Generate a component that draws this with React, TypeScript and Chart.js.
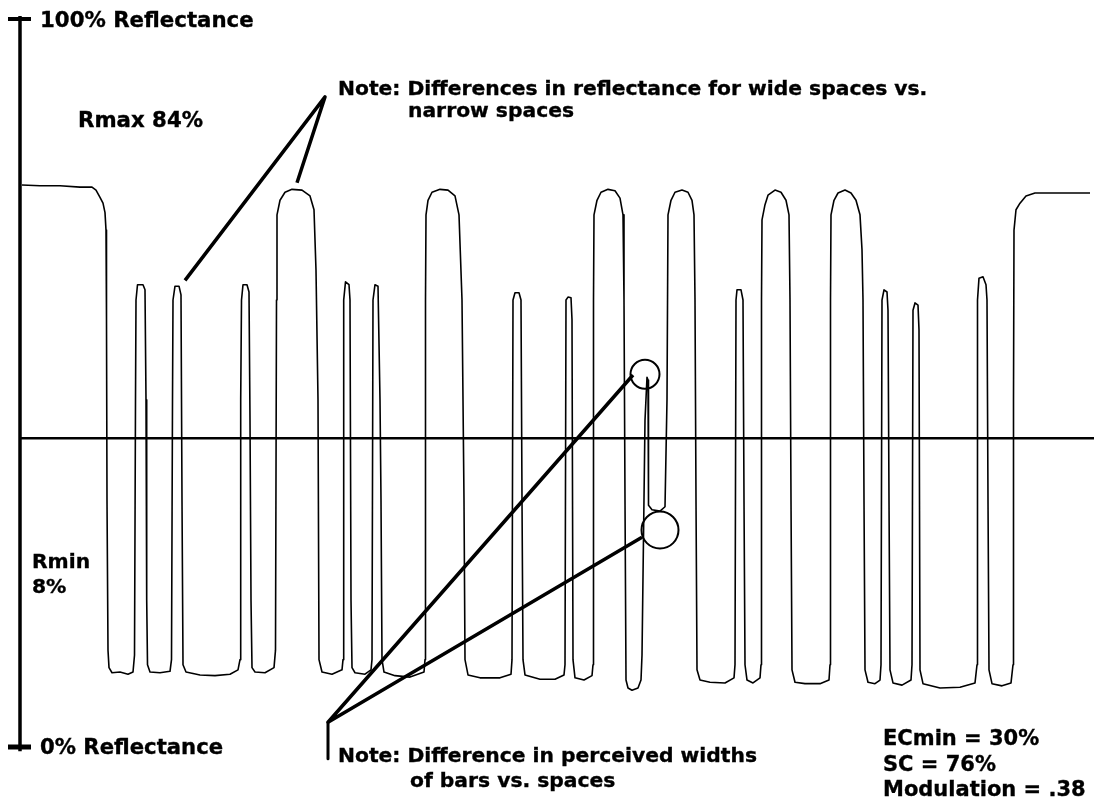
import React, { useEffect, useRef } from 'react';
import { Chart, registerables } from 'chart.js';

Chart.register(...registerables);

const WIDTH = 1094;
const HEIGHT = 799;

// Scan position along the symbol (px-like units) and measured reflectance (%)
const SCAN_X: number[] = [
  22, 40, 60, 80, 92, 96, 100, 103, 105, 106, 106.5, 107, 108, 109, 112, 120, 128, 133,
  134.5, 135.5, 136, 137.5, 143, 145, 146, 146.7, 147.5, 150, 160, 170,
  171.5, 172.5, 173, 175, 179, 181, 182, 183, 186, 200, 215, 230, 238,
  240, 240.7, 241.5, 243, 247, 249, 250, 251, 252, 255, 265, 274,
  275.5, 276.5, 277, 280, 285, 292, 302, 310, 314, 316, 318, 319, 322, 332, 342,
  343, 343.7, 345.5, 349, 350, 351, 352, 355, 365, 371,
  372, 373, 375, 378, 380, 381, 382, 384, 395, 410, 424,
  425, 425.5, 426, 428, 432, 440, 448, 455, 459, 462, 464, 465, 468, 480, 500, 511,
  512, 513, 515, 519, 521, 522, 523, 525, 540, 555, 564,
  565, 566, 568, 571, 572, 573, 575, 584, 592,
  593, 593.5, 594, 597, 601, 608, 615, 620, 623, 624, 625, 626, 628, 632, 638, 641,
  642, 645, 647, 648, 648.5, 652, 660, 665,
  667, 668, 671, 675, 682, 688, 692, 694, 695, 696, 697, 700, 710, 725, 734,
  735, 736, 737, 741, 743, 744, 745, 747, 753, 760,
  761, 761.5, 762, 765, 768, 775, 781, 786, 789, 790, 791, 792, 795, 805, 820, 829,
  830, 830.5, 831, 834, 838, 845, 851, 856, 860, 862, 863, 864, 865, 868, 875, 880,
  881, 882, 884, 887, 888, 889, 890, 893, 902, 911,
  912, 913, 915, 918, 919, 920, 923, 940, 960, 975,
  977, 977.5, 979, 983, 986, 987, 988, 989, 992, 1002, 1011,
  1013, 1013.5, 1014, 1016, 1020, 1026, 1035, 1060, 1090,
];

const REFLECTANCE: number[] = [
  77.2, 77.1, 77.1, 76.9, 76.9, 76.5, 75.5, 74.7, 73.4, 71.0, 58.7, 33.9, 13.3, 10.9, 10.2, 10.3, 10.0, 10.3,
  12.6, 47.7, 61.4, 63.5, 63.5, 62.8, 47.7, 20.2, 11.3, 10.3, 10.2, 10.4,
  12.0, 47.7, 61.4, 63.3, 63.3, 62.1, 33.9, 11.3, 10.3, 9.9, 9.8, 10.0, 10.6,
  12.0, 47.7, 61.4, 63.5, 63.5, 62.5, 44.9, 20.2, 10.9, 10.3, 10.2, 10.9,
  13.3, 61.4, 73.1, 75.1, 76.2, 76.6, 76.5, 75.7, 73.8, 65.5, 47.7, 12.0, 10.3, 10.0, 10.6,
  12.0, 61.4, 63.9, 63.5, 61.4, 20.2, 10.9, 10.2, 10.0, 10.6,
  12.0, 61.4, 63.5, 63.3, 47.7, 33.9, 12.0, 10.3, 9.8, 9.6, 10.3,
  12.0, 61.4, 73.1, 75.1, 76.2, 76.6, 76.5, 75.7, 73.1, 61.4, 33.9, 12.0, 9.9, 9.5, 9.5, 10.0,
  12.0, 61.4, 62.4, 62.4, 61.4, 33.9, 12.0, 9.9, 9.3, 9.3, 9.9,
  11.3, 61.4, 61.8, 61.7, 58.7, 12.0, 9.5, 9.2, 9.8,
  11.3, 61.4, 73.1, 75.1, 76.2, 76.6, 76.4, 75.4, 73.1, 61.4, 33.9, 9.2, 8.1, 7.8, 8.1, 9.2,
  12.6, 44.9, 50.8, 50.4, 33.2, 32.6, 32.4, 33.0,
  47.7, 73.1, 75.1, 76.2, 76.5, 76.2, 75.1, 73.1, 61.4, 33.9, 10.6, 9.2, 8.9, 8.8, 9.5,
  11.3, 61.4, 62.8, 62.8, 61.4, 33.9, 11.3, 9.2, 8.8, 9.5,
  11.3, 61.4, 72.4, 74.5, 75.8, 76.5, 76.2, 75.1, 73.1, 61.4, 33.9, 10.6, 8.9, 8.7, 8.7, 9.2,
  11.3, 61.4, 73.1, 75.1, 76.1, 76.5, 76.1, 75.1, 73.1, 68.3, 61.4, 33.9, 10.6, 8.9, 8.7, 9.2,
  11.3, 61.4, 62.8, 62.5, 60.0, 33.9, 10.6, 8.8, 8.5, 9.2,
  11.3, 60.0, 61.0, 60.7, 57.3, 10.6, 8.7, 8.1, 8.2, 8.8,
  11.3, 61.4, 64.4, 64.6, 63.5, 61.4, 33.9, 10.6, 8.7, 8.4, 8.8,
  11.3, 47.7, 71.0, 73.8, 74.7, 75.7, 76.1, 76.1, 76.1,
];

// Global threshold line (%)
const THRESHOLD = 42.4;
const THRESHOLD_X: number[] = [20, 1094];

// Reflectance axis: 0% and 100%
const AXIS_X = 20;
const AXIS_RANGE: number[] = [-0.6, 100.4];
const AXIS_TICK_VALUES: number[] = [100, 0];
const AXIS_TICK_X: number[] = [8, 31];

// Callout leaders (scan position, reflectance %)
const NOTE1_X: number[] = [185, 325, 297];
const NOTE1_Y: number[] = [64.1, 89.3, 77.5];
const NOTE2_X: number[] = [633, 328, 642];
const NOTE2_Y: number[] = [51.1, 3.4, 28.8];
const NOTE2_STEM_X: number[] = [328, 328];
const NOTE2_STEM_Y: number[] = [3.4, -1.6];

// Highlight circles
const CIRCLE_X: number[] = [645, 660];
const CIRCLE_Y: number[] = [51.2, 29.8];
const CIRCLE_R: number[] = [14.5, 18.5];

const FONT = '"DejaVu Sans", Verdana, sans-serif';

type LabelProps = { left: number; baseline: number; size: number; text: string };

function Label({ left, baseline, size, text }: LabelProps) {
  return (
    <div
      style={{
        position: 'absolute',
        left,
        top: baseline - 0.846 * size,
        fontFamily: FONT,
        fontWeight: 'bold',
        fontSize: size,
        lineHeight: `${size}px`,
        color: '#000',
        whiteSpace: 'nowrap',
        WebkitTextStroke: '0.35px #000',
      }}
    >
      {text}
    </div>
  );
}

const LABELS: LabelProps[] = [
  { left: 40, baseline: 27, size: 21.3, text: '100% Reflectance' },
  { left: 78, baseline: 127, size: 21.3, text: 'Rmax 84%' },
  { left: 338, baseline: 95, size: 20.3, text: 'Note: Differences in reflectance for wide spaces vs.' },
  { left: 408, baseline: 117, size: 20.3, text: 'narrow spaces' },
  { left: 32, baseline: 568, size: 20.3, text: 'Rmin' },
  { left: 32, baseline: 593, size: 20.3, text: '8%' },
  { left: 40, baseline: 754, size: 21.2, text: '0% Reflectance' },
  { left: 338, baseline: 762, size: 20.3, text: 'Note: Difference in perceived widths' },
  { left: 410, baseline: 787, size: 20.3, text: 'of bars vs. spaces' },
  { left: 883, baseline: 746, size: 21, text: 'ECmin = 30%' },
  { left: 883, baseline: 772, size: 21, text: 'SC = 76%' },
  { left: 883, baseline: 797, size: 21, text: 'Modulation = .38' },
];

function pts(xs: number[], ys: number[]) {
  return xs.map((x, i) => ({ x, y: ys[i] }));
}

export default function App() {
  const ref = useRef<HTMLCanvasElement | null>(null);

  useEffect(() => {
    if (!ref.current) return;
    const line = (data: { x: number; y: number }[], width: number) => ({
      type: 'line' as const,
      data,
      borderColor: '#000',
      borderWidth: width,
      pointRadius: 0,
      tension: 0,
      fill: false,
      clip: false as const,
      borderCapStyle: 'butt' as const,
      borderJoinStyle: 'round' as const,
    });

    const chart = new Chart(ref.current, {
      type: 'line',
      data: {
        datasets: [
          line(pts(SCAN_X, REFLECTANCE), 1.6),
          line(pts(THRESHOLD_X, THRESHOLD_X.map(() => THRESHOLD)), 2.5),
          line(pts([AXIS_X, AXIS_X], AXIS_RANGE), 3.5),
          line(pts(AXIS_TICK_X, [AXIS_TICK_VALUES[0], AXIS_TICK_VALUES[0]]), 4),
          line(pts(AXIS_TICK_X, [AXIS_TICK_VALUES[1], AXIS_TICK_VALUES[1]]), 5),
          line(pts(NOTE1_X, NOTE1_Y), 3.5),
          line(pts(NOTE2_X, NOTE2_Y), 3.5),
          line(pts(NOTE2_STEM_X, NOTE2_STEM_Y), 3),
          {
            type: 'scatter' as const,
            data: pts(CIRCLE_X, CIRCLE_Y),
            showLine: false,
            pointRadius: CIRCLE_R,
            pointBorderWidth: 2,
            pointBorderColor: '#000',
            pointBackgroundColor: 'rgba(0,0,0,0)',
            clip: false as const,
          } as any,
        ],
      },
      options: {
        animation: false,
        responsive: false,
        events: [],
        layout: { autoPadding: false, padding: { top: 19, bottom: 52, left: 0, right: 0 } },
        scales: {
          x: { type: 'linear', min: 0, max: WIDTH, display: false },
          y: { type: 'linear', min: 0, max: 100, display: false },
        },
        plugins: { legend: { display: false }, tooltip: { enabled: false } },
      },
    });
    return () => chart.destroy();
  }, []);

  return (
    <div
      style={{
        position: 'absolute',
        left: 0,
        top: 0,
        width: WIDTH,
        height: HEIGHT,
        background: '#fff',
        overflow: 'hidden',
      }}
    >
      <canvas ref={ref} width={WIDTH} height={HEIGHT} style={{ position: 'absolute', left: 0, top: 0 }} />
      {LABELS.map((l, i) => (
        <Label key={i} {...l} />
      ))}
    </div>
  );
}
